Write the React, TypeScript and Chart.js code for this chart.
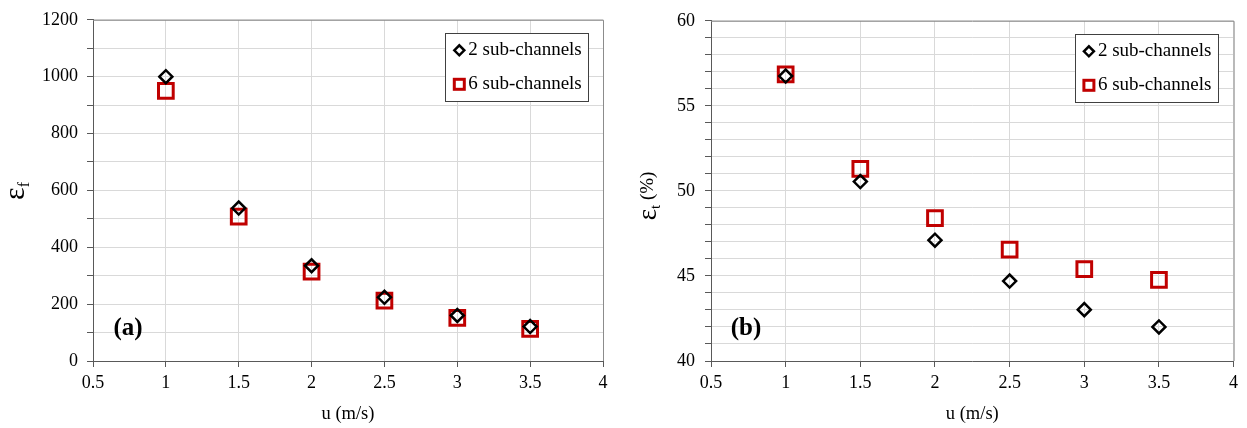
import React, { useEffect, useRef } from "react";
import { Chart, registerables } from "chart.js";

Chart.register(...registerables);

// ---- data ----
const uValues = [1, 1.5, 2, 2.5, 3, 3.5];
const seriesLabels = ["2 sub-channels", "6 sub-channels"];
const efTwo = [1000, 538, 335, 224, 160, 121];
const efSix = [950, 508, 314, 212, 152, 113];
const etTwo = [56.75, 50.55, 47.1, 44.7, 43.02, 42.0];
const etSix = [56.85, 51.3, 48.4, 46.55, 45.4, 44.77];
const xTitle = "u (m/s)";
const panelTags = ["(a)", "(b)"];

const SERIF = '"Liberation Serif", "Times New Roman", serif';

type TitlePart = { text: string; size: number; base: number };

function makeDecor(opts: {
  tag: string;
  titleParts: TitlePart[];
  titleCx: number;
  titleCy: number;
  legendRightGap: number;
}) {
  return {
    id: "decor",
    afterDraw(chart: any) {
      const { ctx, chartArea } = chart;
      const { left, right, top, bottom } = chartArea;
      ctx.save();
      // plot-area top & right borders
      ctx.strokeStyle = "#8c8c8c";
      ctx.lineWidth = 1;
      ctx.beginPath();
      ctx.moveTo(left, top + 0.5);
      ctx.lineTo(right + 0.5, top + 0.5);
      ctx.lineTo(right + 0.5, bottom);
      ctx.stroke();

      // panel tag
      ctx.fillStyle = "#000";
      ctx.font = `bold 25px ${SERIF}`;
      ctx.textAlign = "center";
      ctx.textBaseline = "middle";
      ctx.fillText(opts.tag, left + 35, bottom - 32);

      // y title (rotated, with subscript)
      ctx.save();
      ctx.translate(opts.titleCx, opts.titleCy);
      ctx.rotate(-Math.PI / 2);
      ctx.textAlign = "left";
      ctx.textBaseline = "alphabetic";
      let total = 0;
      const widths = opts.titleParts.map((p) => {
        ctx.font = `${p.size}px ${SERIF}`;
        const w = ctx.measureText(p.text).width;
        total += w;
        return w;
      });
      let x = -total / 2;
      opts.titleParts.forEach((p, i) => {
        ctx.font = `${p.size}px ${SERIF}`;
        ctx.fillText(p.text, x, p.base);
        x += widths[i];
      });
      ctx.restore();

      // legend
      const bw = 143;
      const bh = 68;
      const bx = right - opts.legendRightGap - bw;
      const by = top + 13.5;
      ctx.fillStyle = "#fff";
      ctx.fillRect(bx, by, bw, bh);
      ctx.strokeStyle = "#404040";
      ctx.lineWidth = 1;
      ctx.strokeRect(Math.round(bx) + 0.5, Math.round(by) + 0.5, bw, bh);
      const rows = [by + 17, by + 51];
      const mx = bx + 14;
      // diamond
      ctx.strokeStyle = "#000";
      ctx.lineWidth = 2.5;
      ctx.beginPath();
      ctx.moveTo(mx - 5, rows[0]);
      ctx.lineTo(mx, rows[0] - 5);
      ctx.lineTo(mx + 5, rows[0]);
      ctx.lineTo(mx, rows[0] + 5);
      ctx.closePath();
      ctx.stroke();
      // square
      ctx.strokeStyle = "#c00000";
      ctx.lineWidth = 3;
      ctx.strokeRect(mx - 5, rows[1] - 5, 10, 10);
      ctx.fillStyle = "#000";
      ctx.font = `19px ${SERIF}`;
      ctx.textAlign = "left";
      ctx.textBaseline = "middle";
      chart.data.datasets.forEach((ds: any, i: number) => {
        ctx.fillText(ds.label, bx + 23, rows[i]);
      });
      ctx.restore();
    },
  };
}

function buildConfig(p: {
  two: number[];
  six: number[];
  yMin: number;
  yMax: number;
  yStep: number;
  yLabelEvery: number;
  yWidth: number;
  rightPad: number;
  yPad: number;
  decor: any;
}) {
  const tickFont = { family: SERIF, size: 18 };
  return {
    type: "scatter" as const,
    data: {
      datasets: [
        {
          label: seriesLabels[0],
          data: uValues.map((u, i) => ({ x: u, y: p.two[i] })),
          pointStyle: "rectRot",
          pointRadius: 6.5,
          pointHoverRadius: 6.5,
          borderColor: "#000",
          backgroundColor: "rgba(0,0,0,0)",
          borderWidth: 2.5,
          showLine: false,
        },
        {
          label: seriesLabels[1],
          data: uValues.map((u, i) => ({ x: u, y: p.six[i] })),
          pointStyle: "rect",
          pointRadius: 10.4,
          pointHoverRadius: 10.4,
          borderColor: "#c00000",
          backgroundColor: "rgba(0,0,0,0)",
          borderWidth: 3,
          showLine: false,
        },
      ],
    },
    options: {
      animation: false,
      responsive: false,
      maintainAspectRatio: false,
      events: [],
      layout: { padding: { left: 0, right: p.rightPad, top: 17, bottom: 0 } },
      plugins: { legend: { display: false }, tooltip: { enabled: false } },
      scales: {
        x: {
          type: "linear",
          min: 0.5,
          max: 4,
          afterFit: (s: any) => {
            s.height = 67;
          },
          ticks: {
            stepSize: 0.5,
            autoSkip: false,
            maxRotation: 0,
            padding: 5,
            color: "#000",
            font: tickFont,
            callback: (v: any) => String(v),
          },
          grid: { color: "#d9d9d9", tickColor: "#595959", tickLength: 6, lineWidth: 1 },
          border: { color: "#595959", width: 1 },
          title: {
            display: true,
            text: xTitle,
            color: "#000",
            font: { family: SERIF, size: 18.5 },
            padding: { top: 0, bottom: 3 },
          },
        },
        y: {
          type: "linear",
          min: p.yMin,
          max: p.yMax,
          afterFit: (s: any) => {
            s.width = p.yWidth;
          },
          ticks: {
            stepSize: p.yStep,
            autoSkip: false,
            padding: p.yPad,
            color: "#000",
            font: tickFont,
            callback: (v: any) => (Math.abs(v % p.yLabelEvery) < 1e-9 ? String(v) : ""),
          },
          grid: { color: "#d9d9d9", tickColor: "#595959", tickLength: 6, lineWidth: 1 },
          border: { color: "#595959", width: 1 },
        },
      },
    },
    plugins: [p.decor],
  };
}

function Panel(props: { config: any; width: number; left: number }) {
  const ref = useRef<HTMLCanvasElement | null>(null);
  useEffect(() => {
    if (!ref.current) return;
    const chart = new Chart(ref.current, props.config);
    return () => chart.destroy();
  }, []);
  return (
    <canvas
      ref={ref}
      width={props.width}
      height={428}
      style={{ position: "absolute", left: props.left, top: 0, width: props.width, height: 428 }}
    />
  );
}

export default function App() {
  const leftCfg = buildConfig({
    two: efTwo,
    six: efSix,
    yMin: 0,
    yMax: 1200,
    yStep: 100,
    yLabelEvery: 200,
    yWidth: 93,
    rightPad: 17,
    yPad: 9,
    decor: makeDecor({
      tag: panelTags[0],
      titleParts: [
        { text: "ε", size: 30, base: 0 },
        { text: "f", size: 16, base: 5 },
      ],
      titleCx: 24,
      titleCy: 191,
      legendRightGap: 14.7,
    }),
  });
  const rightCfg = buildConfig({
    two: etTwo,
    six: etSix,
    yMin: 40,
    yMax: 60,
    yStep: 1,
    yLabelEvery: 5,
    yWidth: 91,
    rightPad: 7,
    yPad: 10,
    decor: makeDecor({
      tag: panelTags[1],
      titleParts: [
        { text: "ε", size: 27, base: 3 },
        { text: "t", size: 15, base: 7 },
        { text: " (%)", size: 19, base: 0 },
      ],
      titleCx: 653 - 620,
      titleCy: 196,
      legendRightGap: 15.7,
    }),
  });
  return (
    <div
      style={{
        position: "fixed",
        left: 0,
        top: 0,
        width: 1247,
        height: 428,
        background: "#fff",
        overflow: "hidden",
      }}
    >
      <Panel config={leftCfg} width={620} left={0} />
      <Panel config={rightCfg} width={627} left={620} />
    </div>
  );
}
